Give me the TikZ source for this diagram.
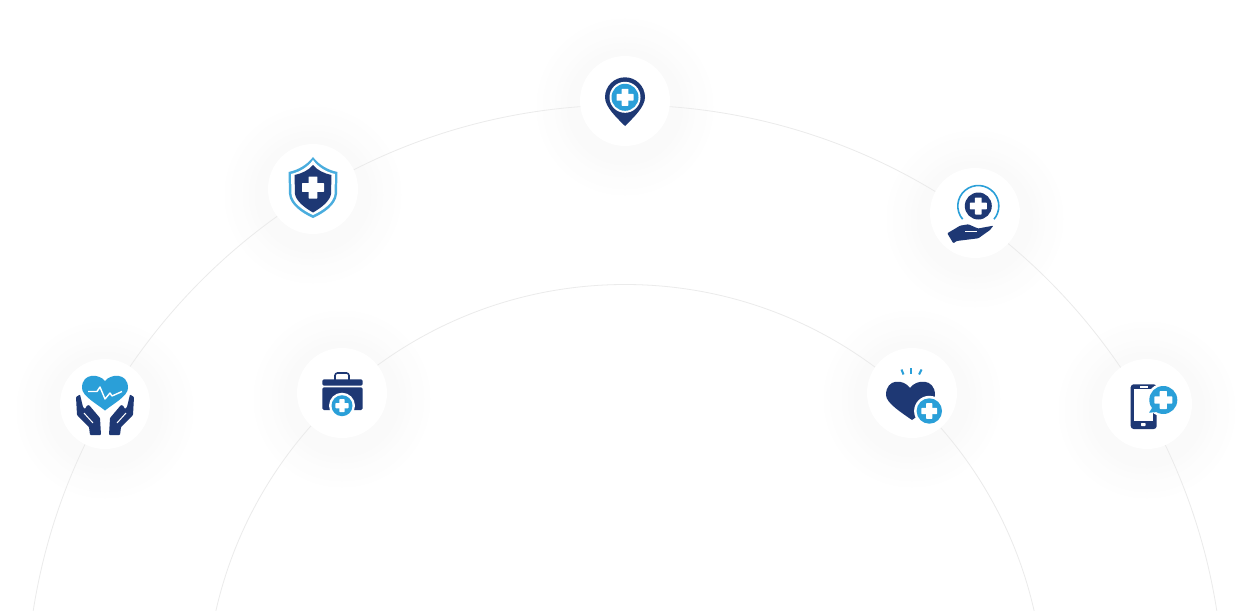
\documentclass[tikz,border=0pt]{standalone}
\usepackage{tikz}

\definecolor{navy}{HTML}{1E3874}
\definecolor{sky}{HTML}{2A9FD8}
\definecolor{ringgray}{HTML}{EBEBEB}

\newcommand{\crossat}[3]{%
  \fill[white, rounded corners=.6pt] (#1-#3,#2-#3*.4) rectangle (#1+#3,#2+#3*.4);
  \fill[white, rounded corners=.6pt] (#1-#3*.4,#2-#3) rectangle (#1+#3*.4,#2+#3);
}
\newcommand{\plusdisc}[3]{%
  \fill[white] (#1,#2) circle (#3+2.5);
  \fill[sky] (#1,#2) circle (#3);
  \crossat{#1}{#2}{#3*.62}
}

\tikzset{
  ringline/.style={draw=ringgray, line width=.8pt},
  badge/.style={circle, fill=white, inner sep=0pt, minimum size=90pt},
  glowpic/.pic={
    \foreach \r/\g in {88/.3, 82/.6, 76/.9, 70/1.2, 64/1.5, 58/1.8, 52/2} {
      \fill[black!\g] (0,0) circle (\r);
    }
  },
  caringpic/.pic={
    \fill[sky] (0,-23) .. controls (-5,-30) and (-23,-32) .. (-23,-16) .. controls (-23,-8) and (-8,0) .. (0,6.5)
      .. controls (8,0) and (23,-8) .. (23,-16) .. controls (23,-32) and (5,-30) .. (0,-23) -- cycle;
    \draw[white, line width=1.4pt, line join=round] (-17,-12.5) -- (-8,-12.5) -- (-5,-17) -- (0,-5) -- (5,-11) -- (7,-8) -- (17,-12.5);
    \foreach \side in {1,-1} {
      \begin{scope}[xscale=\side]
        \fill[navy, rounded corners=.8pt] (-29,-7) -- (-25,-9.5) -- (-22,3) -- (-20,5) -- (-18,1.5) -- (-16,1) -- (-5,14) -- (-4,31) -- (-15,31) -- (-16,23) -- (-28,11) -- cycle;
        \draw[white, line width=1pt] (-21,9) -- (-12,19);
      \end{scope}
    }
  },
  shieldpic/.pic={
    \fill[sky!85!white] (0,-32) .. controls (6,-24) and (15,-19) .. (24.5,-17) -- (24,5) .. controls (23,16) and (11,24) .. (0,29)
      .. controls (-11,24) and (-23,16) .. (-24,5) -- (-24.5,-17) .. controls (-15,-19) and (-6,-24) .. (0,-32) -- cycle;
    \fill[white] (0,-29) .. controls (5,-22) and (13,-17) .. (22,-15) -- (21.5,5) .. controls (20.5,14) and (10,21.5) .. (0,26)
      .. controls (-10,21.5) and (-20.5,14) .. (-21.5,5) -- (-22,-15) .. controls (-13,-17) and (-5,-22) .. (0,-29) -- cycle;
    \fill[navy] (0,-24) .. controls (4,-19) and (11,-15.5) .. (18.5,-14) -- (18,5) .. controls (17,12) and (8,19) .. (0,23.5)
      .. controls (-8,19) and (-17,12) .. (-18,5) -- (-18.5,-14) .. controls (-11,-15.5) and (-4,-19) .. (0,-24) -- cycle;
    \crossat{0}{-1.5}{11}
  },
  pinpic/.pic={
    \fill[navy] (-20,-3.7) arc (180:360:20) .. controls (20,6) and (8,17) .. (0,25) .. controls (-8,17) and (-20,6) .. (-20,-3.7) -- cycle;
    \fill[white] (0,-3.7) circle (15.5);
    \fill[sky] (0,-3.7) circle (13.5);
    \crossat{0}{-3.7}{8.5}
  },
  coinpic/.pic={
    \draw[sky, line width=1.6pt] (-12.4,6.2) arc (140:400:20.5);
    \fill[navy] (3.3,-7) circle (13.5);
    \crossat{3.3}{-7}{8.5}
    \fill[navy, rounded corners=.8pt] (-27.7,20.3) -- (-15,12.7) -- (-6.7,11.3) -- (3,15.5) -- (18.3,12.7) -- (15,17) -- (3.3,25.3) -- (-18.3,28) -- (-21.7,30.3) -- cycle;
    \draw[white, line width=1pt] (-10,18) -- (2,18);
  },
  casepic/.pic={
    \draw[navy, line width=1.6pt, rounded corners=2.5pt] (-7,-13) -- (-7,-20) -- (7,-20) -- (7,-13);
    \fill[navy, rounded corners=1.5pt] (-19.7,-7.3) -- (-19.7,-13.7) -- (20.7,-13.7) -- (20.7,-7.3) -- cycle;
    \fill[navy, rounded corners=1.5pt] (-19.7,-5.7) -- (20.7,-5.7) -- (20.7,17) -- (-19.7,17) -- cycle;
    \plusdisc{0}{12.7}{10.5}
  },
  heartpic/.pic={
    \fill[navy] (-2,-5) .. controls (-8,-14) and (-26,-15) .. (-26,2) .. controls (-26,10) and (-10,20) .. (0,27)
      .. controls (10,20) and (23,10) .. (23,2) .. controls (23,-15) and (4,-14) .. (-2,-5) -- cycle;
    \draw[sky, line width=2pt] (-10.5,-23.5) -- (-8.5,-18.5);
    \draw[sky, line width=2pt] (-1,-25) -- (-1,-19.5);
    \draw[sky, line width=2pt] (9.5,-23.5) -- (7,-18.5);
    \plusdisc{17.3}{18}{12.7}
  },
  phonepic/.pic={
    \fill[navy, rounded corners=3pt] (-16.3,-19.7) rectangle (9.7,25);
    \fill[white] (-13,-14.7) rectangle (6.3,17);
    \fill[white] (-7,-17.7) rectangle (1.3,-16.3);
    \fill[white, rounded corners=.7pt] (-6,19) rectangle (-1.5,22);
    \fill[white] (16.3,-4) circle (16.5);
    \fill[sky] (16.3,-4) circle (14);
    \fill[sky] (2,8.7) -- (7,1) -- (11,8) -- cycle;
    \crossat{16.3}{-4}{9}
  }
}

\begin{document}
\begin{tikzpicture}[x=1pt, y=-1pt]
  \useasboundingbox (0,0) rectangle (1252,610);
  \clip (0,0) rectangle (1252,610);
  \fill[white] (0,0) rectangle (1252,610);

  \foreach \nm/\px/\py in {caring/105/404, shield/313/189, pin/625/101, coin/975/213, case/342/393, heart/912/393, phone/1147/404} {
    \pic at (\px,\py+6) {glowpic};
  }

  \coordinate (hub) at (625,704);
  \draw[ringline] (hub) circle (599pt);
  \draw[ringline] (hub) circle (419.5pt);

  \foreach \nm/\px/\py in {caring/105/404, shield/313/189, pin/625/101, coin/975/213, case/342/393, heart/912/393, phone/1147/404} {
    \node[badge] (\nm) at (\px,\py) {};
    \pic at (\nm) {\nm pic};
  }
\end{tikzpicture}
\end{document}
